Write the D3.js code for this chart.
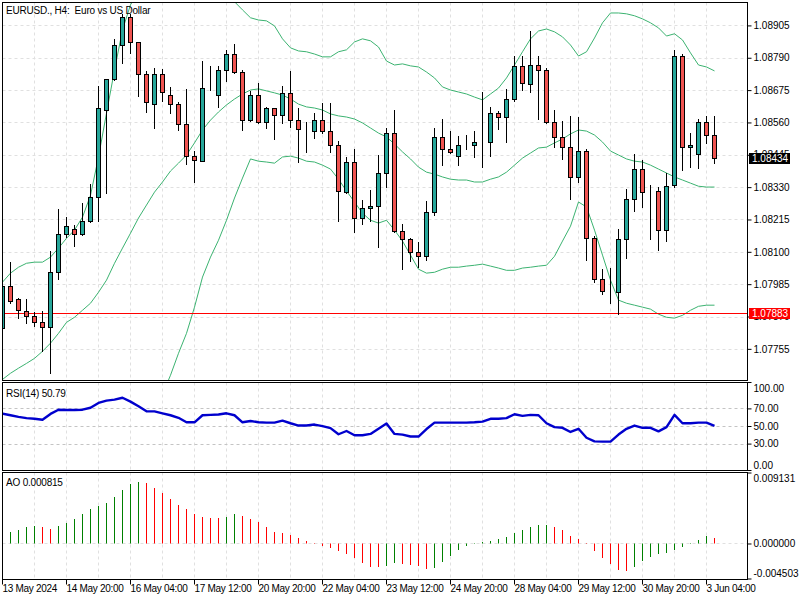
<!DOCTYPE html>
<html><head><meta charset="utf-8">
<script src="https://cdn.jsdelivr.net/npm/d3@7"></script>
<style>
html,body{margin:0;padding:0;background:#fff;}
svg{display:block;font-family:"Liberation Sans",Arial,sans-serif;}
</style></head><body>
<svg id="c" width="800" height="600"></svg>
<script>
const symbolTitle = "EURUSD., H4:  Euro vs US Dollar";

const open = [1.07830,1.07979,1.07933,1.07890,1.07873,1.07851,1.07833,1.08029,1.08165,1.08182,
1.08165,1.08211,1.08296,1.08606,1.08716,1.08837,1.08934,1.08845,1.08731,1.08627,
1.08731,1.08659,1.08627,1.08556,1.08439,1.08424,1.08684,1.08659,1.08748,1.08805,
1.08741,1.08570,1.08656,1.08563,1.08610,1.08585,1.08663,1.08567,1.08533,1.08531,
1.08570,1.08531,1.08481,1.08314,1.08421,1.08222,1.08254,1.08264,1.08382,1.08524,
1.08175,1.08147,1.08100,1.08086,1.08243,1.08510,1.08467,1.08439,1.08480,1.08481,
1.08490,1.08489,1.08595,1.08581,1.08645,1.08759,1.08695,1.08763,1.08745,1.08563,
1.08510,1.08474,1.08367,1.08460,1.08150,1.08004,1.07960,1.07958,1.08147,1.08289,
1.08396,1.08313,1.08318,1.08179,1.08339,1.08798,1.08471,1.08449,1.08560,1.08517];

const high = [1.07987,1.08065,1.07937,1.07933,1.07887,1.07890,1.08104,1.08254,1.08225,1.08197,
1.08275,1.08343,1.08691,1.08716,1.08859,1.08948,1.08948,1.08848,1.08745,1.08756,
1.08752,1.08688,1.08634,1.08681,1.08460,1.08780,1.08763,1.08763,1.08820,1.08841,
1.08748,1.08674,1.08702,1.08617,1.08613,1.08691,1.08745,1.08613,1.08563,1.08595,
1.08631,1.08631,1.08496,1.08439,1.08467,1.08286,1.08321,1.08446,1.08542,1.08606,
1.08200,1.08150,1.08136,1.08282,1.08542,1.08574,1.08531,1.08513,1.08517,1.08531,
1.08670,1.08617,1.08602,1.08681,1.08798,1.08798,1.08887,1.08798,1.08756,1.08606,
1.08567,1.08585,1.08581,1.08467,1.08157,1.08040,1.08044,1.08182,1.08325,1.08449,
1.08428,1.08339,1.08332,1.08382,1.08820,1.08805,1.08524,1.08574,1.08585,1.08585];

const low = [1.07823,1.07919,1.07866,1.07848,1.07837,1.07748,1.07670,1.08004,1.08154,1.08122,
1.08161,1.08207,1.08211,1.08311,1.08713,1.08773,1.08809,1.08656,1.08599,1.08542,
1.08638,1.08595,1.08535,1.08414,1.08350,1.08424,1.08677,1.08617,1.08709,1.08738,
1.08535,1.08567,1.08560,1.08542,1.08503,1.08560,1.08545,1.08421,1.08456,1.08506,
1.08524,1.08456,1.08211,1.08311,1.08172,1.08200,1.08211,1.08118,1.08332,1.08172,
1.08040,1.08068,1.08047,1.08072,1.08232,1.08410,1.08454,1.08410,1.08467,1.08439,
1.08403,1.08442,1.08538,1.08492,1.08638,1.08677,1.08670,1.08574,1.08560,1.08474,
1.08432,1.08289,1.08350,1.08072,1.07994,1.07951,1.07919,1.07880,1.08079,1.08246,
1.08261,1.08147,1.08108,1.08140,1.08332,1.08392,1.08403,1.08400,1.08489,1.08417];

const close = [1.07979,1.07926,1.07894,1.07873,1.07851,1.07833,1.08029,1.08165,1.08193,1.08165,
1.08211,1.08296,1.08610,1.08716,1.08834,1.08934,1.08845,1.08731,1.08631,1.08731,
1.08667,1.08627,1.08556,1.08439,1.08428,1.08684,1.08682,1.08748,1.08805,1.08741,
1.08570,1.08656,1.08563,1.08610,1.08585,1.08663,1.08567,1.08535,1.08532,1.08570,
1.08531,1.08481,1.08318,1.08421,1.08222,1.08254,1.08264,1.08382,1.08524,1.08175,
1.08147,1.08100,1.08086,1.08243,1.08510,1.08467,1.08456,1.08481,1.08481,1.08492,
1.08490,1.08595,1.08581,1.08645,1.08759,1.08699,1.08763,1.08745,1.08563,1.08510,
1.08474,1.08367,1.08460,1.08150,1.08004,1.07962,1.07959,1.08147,1.08289,1.08396,
1.08314,1.08314,1.08179,1.08335,1.08798,1.08471,1.08481,1.08560,1.08517,1.08434];

const bbUpper = [1.07994,1.08026,1.08047,1.08061,1.08065,1.08065,1.08083,1.08115,1.08150,1.08179,
1.08225,1.08303,1.08439,1.08595,1.08748,1.08891,1.08980,1.09026,1.09058,1.09083,
1.09104,1.09115,1.09094,1.09080,1.09072,1.09058,1.09058,1.09055,1.09033,1.08991,
1.08962,1.08934,1.08926,1.08923,1.08905,1.08859,1.08827,1.08816,1.08813,1.08805,
1.08795,1.08795,1.08813,1.08820,1.08848,1.08859,1.08852,1.08830,1.08780,1.08766,
1.08770,1.08763,1.08759,1.08741,1.08720,1.08688,1.08677,1.08670,1.08663,1.08652,
1.08642,1.08663,1.08684,1.08720,1.08766,1.08813,1.08859,1.08887,1.08894,1.08884,
1.08866,1.08837,1.08798,1.08813,1.08862,1.08916,1.08951,1.08951,1.08948,1.08941,
1.08930,1.08916,1.08898,1.08869,1.08877,1.08855,1.08809,1.08766,1.08759,1.08745];

const bbMiddle = [1.07648,1.07670,1.07688,1.07705,1.07723,1.07748,1.07777,1.07812,1.07851,1.07869,
1.07894,1.07919,1.07958,1.08001,1.08061,1.08115,1.08168,1.08222,1.08268,1.08314,
1.08350,1.08389,1.08417,1.08446,1.08489,1.08535,1.08570,1.08599,1.08624,1.08645,
1.08663,1.08677,1.08681,1.08674,1.08667,1.08659,1.08645,1.08627,1.08617,1.08613,
1.08606,1.08592,1.08585,1.08581,1.08574,1.08560,1.08542,1.08524,1.08510,1.08485,
1.08457,1.08432,1.08403,1.08385,1.08378,1.08368,1.08360,1.08357,1.08357,1.08350,
1.08350,1.08360,1.08368,1.08385,1.08410,1.08435,1.08453,1.08471,1.08474,1.08489,
1.08503,1.08521,1.08535,1.08531,1.08517,1.08492,1.08460,1.08446,1.08432,1.08424,
1.08421,1.08410,1.08396,1.08382,1.08368,1.08357,1.08346,1.08335,1.08332,1.08332];

const bbLower = [1.07303,1.07314,1.07328,1.07349,1.07381,1.07431,1.07470,1.07510,1.07552,1.07559,
1.07563,1.07534,1.07478,1.07406,1.07374,1.07339,1.07356,1.07417,1.07478,1.07545,
1.07595,1.07663,1.07741,1.07812,1.07905,1.08012,1.08083,1.08143,1.08214,1.08293,
1.08364,1.08432,1.08424,1.08421,1.08417,1.08439,1.08442,1.08435,1.08424,1.08421,
1.08410,1.08396,1.08360,1.08318,1.08279,1.08239,1.08214,1.08204,1.08214,1.08179,
1.08140,1.08090,1.08040,1.08026,1.08029,1.08040,1.08047,1.08047,1.08051,1.08054,
1.08058,1.08051,1.08044,1.08036,1.08036,1.08044,1.08047,1.08051,1.08054,1.08086,
1.08140,1.08193,1.08279,1.08261,1.08179,1.08090,1.08001,1.07930,1.07919,1.07912,
1.07905,1.07898,1.07880,1.07869,1.07866,1.07876,1.07894,1.07908,1.07912,1.07912];

const rsi = [64.7,62.8,61.0,59.5,58.8,57.7,64.3,69.1,68.7,68.7,
69.1,71.3,76.8,79.4,80.5,82.7,78.3,73.1,67.2,67.2,
65.0,62.8,59.9,54.8,54.8,62.8,63.2,63.6,65.0,62.8,
54.8,56.2,54.8,54.4,54.4,56.6,53.7,51.1,51.1,52.2,
50.4,48.2,41.2,44.9,40.1,40.1,41.6,47.4,53.3,41.6,
40.8,38.6,38.6,47.1,54.4,54.4,54.4,54.4,54.4,54.8,
55.5,58.8,58.8,59.5,63.9,62.1,63.2,62.8,53.7,49.3,
48.5,43.8,47.4,37.2,33.1,32.8,32.8,40.8,47.4,51.1,
48.5,48.5,44.5,49.3,63.2,53.7,53.7,54.4,54.4,50.79];

const ao = [0.00148,0.00154,0.00180,0.00219,0.00231,0.00219,0.00193,0.00231,0.00270,0.00322,
0.00386,0.00450,0.00489,0.00527,0.00604,0.00694,0.00772,0.00797,0.00785,0.00720,
0.00656,0.00579,0.00502,0.00450,0.00386,0.00347,0.00336,0.00333,0.00347,0.00386,
0.00360,0.00322,0.00283,0.00219,0.00154,0.00141,0.00116,0.00077,0.00039,0.00013,
-0.00021,-0.00047,-0.00086,-0.00124,-0.00176,-0.00240,-0.00292,-0.00295,-0.00279,-0.00240,
-0.00253,-0.00266,-0.00279,-0.00317,-0.00315,-0.00231,-0.00150,-0.00073,-0.00021,0.00013,
0.00030,0.00043,0.00069,0.00094,0.00146,0.00180,0.00219,0.00244,0.00245,0.00219,
0.00180,0.00103,0.00064,0.00001,-0.00086,-0.00176,-0.00253,-0.00330,-0.00343,-0.00292,
-0.00214,-0.00163,-0.00124,-0.00111,-0.00073,-0.00034,-0.00001,0.00056,0.00107,0.000815];

const tickBars = [0,8,16,24,32,40,48,56,64,72,80,88];
const tickLabels = ["13 May 2024","14 May 20:00","16 May 04:00","17 May 12:00","20 May 20:00","22 May 04:00",
  "23 May 12:00","24 May 20:00","28 May 04:00","29 May 12:00","30 May 20:00","3 Jun 04:00"];
const priceTicks = [1.08905,1.08790,1.08675,1.08560,1.08445,1.08330,1.08215,1.08100,1.07985,1.07870,1.07755];
const rsiTicks = [100,70,50,30,0];
const rsiLevels = [70,50,30];
const aoTicks = [0.009131,0,-0.004503];
const lastPrice = 1.08434;
const hLinePrice = 1.07883;

const svg = d3.select('#c');
const LEFT = 2.5, RIGHT = 747.5;
const MAIN = [2.5, 380.5], RP = [382.5, 470.5], AP = [472.5, 579.5];
const n = close.length;

const x = d3.scaleLinear().domain([0, 89]).range([2.5, 714.5]);
const y = d3.scaleLinear().domain([1.07646, 1.08990]).range([380, 2]);
const yR = d3.scaleLinear().domain([0, 100]).range([470.5, 382.5]);
const yA = d3.scaleLinear().domain([-0.004503, 0.009131]).range([579, 473]);
const crisp = v => Math.round(v - 0.5) + 0.5;

const defs = svg.append('defs');
[['cm', MAIN], ['cr', RP], ['ca', AP]].forEach(([id, p]) => {
  defs.append('clipPath').attr('id', id).append('rect')
    .attr('x', LEFT + 0.5).attr('y', p[0] + 0.5).attr('width', RIGHT - LEFT - 1).attr('height', p[1] - p[0] - 1);
});

const gridBars = d3.range(0, n, 4);
const gridColor = '#e0e0e0';

// ---------- grids ----------
function vGrid(p, clip) {
  svg.append('g').attr('clip-path', `url(#${clip})`).selectAll('line').data(gridBars).join('line')
    .attr('x1', d => x(d)).attr('x2', d => x(d)).attr('y1', p[0]).attr('y2', p[1])
    .attr('stroke', gridColor).attr('stroke-dasharray', '3,3');
}
vGrid(MAIN, 'cm'); vGrid(RP, 'cr'); vGrid(AP, 'ca');

svg.append('g').attr('clip-path', 'url(#cm)').selectAll('line').data(priceTicks).join('line')
  .attr('x1', LEFT).attr('x2', RIGHT).attr('y1', d => crisp(y(d))).attr('y2', d => crisp(y(d)))
  .attr('stroke', gridColor).attr('stroke-dasharray', '3,3');

svg.append('g').selectAll('line').data(rsiLevels).join('line')
  .attr('x1', LEFT).attr('x2', RIGHT).attr('y1', d => crisp(yR(d))).attr('y2', d => crisp(yR(d)))
  .attr('stroke', '#c4c4c4').attr('stroke-dasharray', '3,3');

svg.append('line').attr('x1', LEFT).attr('x2', RIGHT).attr('y1', crisp(yA(0))).attr('y2', crisp(yA(0)))
  .attr('stroke', gridColor).attr('stroke-dasharray', '3,3');

// ---------- main chart ----------
const gm = svg.append('g').attr('clip-path', 'url(#cm)');
const line = d3.line().x((d, i) => x(i)).y(d => y(d));
[bbUpper, bbMiddle, bbLower].forEach(arr => {
  gm.append('path').attr('d', line(arr)).attr('fill', 'none').attr('stroke', '#3cb371').attr('stroke-width', 1);
});

gm.append('line').attr('x1', LEFT).attr('x2', RIGHT)
  .attr('y1', crisp(y(hLinePrice))).attr('y2', crisp(y(hLinePrice))).attr('stroke', '#ff0000');

const idx = d3.range(n);
gm.append('g').selectAll('line').data(idx).join('line')
  .attr('x1', i => x(i)).attr('x2', i => x(i))
  .attr('y1', i => Math.round(y(high[i]))).attr('y2', i => Math.round(y(low[i])) + 1)
  .attr('stroke', '#000');
gm.append('g').selectAll('rect').data(idx).join('rect')
  .attr('x', i => x(i) - 2)
  .attr('y', i => crisp(y(Math.max(open[i], close[i]))))
  .attr('width', 4)
  .attr('height', i => Math.max(0, crisp(y(Math.min(open[i], close[i]))) - crisp(y(Math.max(open[i], close[i])))))
  .attr('fill', i => close[i] >= open[i] ? '#26a69a' : '#ef5350')
  .attr('stroke', '#000').attr('stroke-width', 1);

svg.append('text').attr('x', 6).attr('y', 13.5).attr('font-size', 10).attr('fill', '#000')
  .attr('letter-spacing', '-0.22px').style('white-space', 'pre').text(symbolTitle);

// ---------- RSI ----------
const gr = svg.append('g').attr('clip-path', 'url(#cr)');
gr.append('path').attr('d', d3.line().x((d, i) => x(i)).y(d => yR(d))(rsi))
  .attr('fill', 'none').attr('stroke', '#0000cd').attr('stroke-width', 2.4).attr('stroke-linejoin', 'round');
svg.append('text').attr('x', 6).attr('y', 397).attr('font-size', 10).attr('letter-spacing', '-0.2px')
  .text(`RSI(14) ${rsi[n - 1].toFixed(2)}`);

// ---------- AO ----------
const ga = svg.append('g').attr('clip-path', 'url(#ca)');
ga.selectAll('line').data(idx).join('line')
  .attr('x1', i => x(i)).attr('x2', i => x(i))
  .attr('y1', crisp(yA(0))).attr('y2', i => Math.round(yA(ao[i])))
  .attr('stroke', i => (i === 0 || ao[i] >= ao[i - 1]) ? '#008000' : '#ff0000');
svg.append('text').attr('x', 6).attr('y', 486).attr('font-size', 10).attr('letter-spacing', '-0.2px')
  .text(`AO ${ao[n - 1].toFixed(6)}`);

// ---------- axes ----------
function styleAxis(g) {
  g.select('.domain').remove();
  g.selectAll('text').attr('font-size', 10).attr('font-family', '"Liberation Sans",Arial,sans-serif').attr('fill', '#000');
  g.selectAll('line').attr('stroke', '#000');
}
const axMain = svg.append('g').attr('transform', `translate(${RIGHT},0)`)
  .call(d3.axisRight(y).tickValues(priceTicks).tickSize(4).tickPadding(2).offset(0).tickFormat(d => d.toFixed(5)));
styleAxis(axMain);

function clampLabels(g, sc, p, topOff, botOff) {
  g.selectAll('.tick text').attr('y', d => {
    const t = sc(d);
    return Math.min(Math.max(t, p[0] + topOff), p[1] - botOff) - t;
  });
}
const axR = svg.append('g').attr('transform', `translate(${RIGHT},0)`)
  .call(d3.axisRight(yR).tickValues(rsiTicks).tickSize(4).tickPadding(2).offset(0).tickFormat(d => d.toFixed(2)));
styleAxis(axR); clampLabels(axR, yR, RP, 6.5, 4.5);

const axA = svg.append('g').attr('transform', `translate(${RIGHT},0)`)
  .call(d3.axisRight(yA).tickValues(aoTicks).tickSize(4).tickPadding(2).offset(0).tickFormat(d => d.toFixed(6)));
styleAxis(axA); clampLabels(axA, yA, AP, 6.5, 6);

const axX = svg.append('g').attr('transform', `translate(0,${AP[1]})`)
  .call(d3.axisBottom(x).tickValues(tickBars).tickSize(5).tickPadding(0).offset(0).tickFormat((d, i) => tickLabels[i]));
styleAxis(axX);
axX.selectAll('.tick text').attr('text-anchor', 'start').attr('x', 0).attr('y', 5).attr('letter-spacing', '-0.3px');

// ---------- price labels ----------
function priceBox(price, bg) {
  const cy = y(price);
  svg.append('rect').attr('x', 749).attr('y', Math.round(cy) - 5).attr('width', 41).attr('height', 11).attr('fill', bg);
  svg.append('text').attr('x', 752).attr('y', cy + 3.5).attr('font-size', 10).attr('fill', '#fff').text(price.toFixed(5));
}
priceBox(lastPrice, '#000');
priceBox(hLinePrice, '#ff0000');

// ---------- frames ----------
[MAIN, RP, AP].forEach(p => {
  svg.append('rect').attr('x', LEFT).attr('y', p[0]).attr('width', RIGHT - LEFT).attr('height', p[1] - p[0])
    .attr('fill', 'none').attr('stroke', '#000').attr('stroke-width', 1);
});
</script>
</body></html>
